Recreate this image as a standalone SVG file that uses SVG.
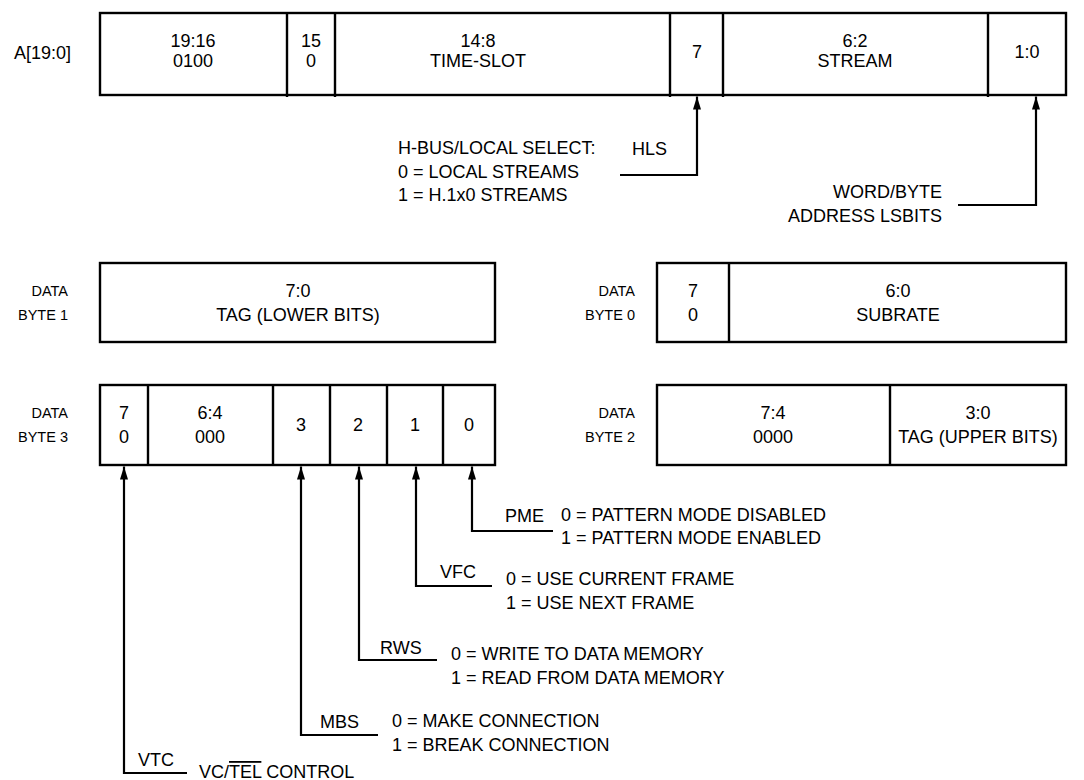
<svg xmlns="http://www.w3.org/2000/svg" width="1084" height="780" viewBox="0 0 1084 780">
<style>
text{font-family:"Liberation Sans",Arial,sans-serif;font-size:18px;fill:#000}
.l{font-size:14.5px}
.c{text-anchor:middle}
.r{text-anchor:end}
.b{fill:#fff;stroke:#000;stroke-width:2.4}
.d{stroke:#000;stroke-width:2.4}
.w{fill:none;stroke:#000;stroke-width:2.2}
</style>
<defs>
<marker id="ah" markerWidth="13" markerHeight="8" refX="13" refY="4" orient="auto" markerUnits="userSpaceOnUse" viewBox="0 0 13 8">
<path d="M0 0 L13 4 L0 8 Z" fill="#000"/>
</marker>
</defs>
<rect width="1084" height="780" fill="#fff"/>

<g id="addr">
<text x="71" y="59" class="r">A[19:0]</text>
<rect class="b" x="100" y="13" width="966" height="82"/>
<line class="d" x1="287" y1="13" x2="287" y2="97"/>
<line class="d" x1="335" y1="13" x2="335" y2="97"/>
<line class="d" x1="670" y1="13" x2="670" y2="97"/>
<line class="d" x1="723" y1="13" x2="723" y2="97"/>
<line class="d" x1="988" y1="13" x2="988" y2="97"/>
<text x="193" y="47" class="c">19:16</text><text x="193" y="67" class="c">0100</text>
<text x="311" y="47" class="c">15</text><text x="311" y="67" class="c">0</text>
<text x="478" y="47" class="c">14:8</text><text x="478" y="67" class="c">TIME-SLOT</text>
<text x="697" y="58" class="c">7</text>
<text x="855" y="47" class="c">6:2</text><text x="855" y="67" class="c">STREAM</text>
<text x="1027" y="58" class="c">1:0</text>
</g>

<g id="byte1">
<text x="68" y="296" class="r l">DATA</text><text x="68" y="320" class="r l">BYTE 1</text>
<rect class="b" x="100" y="263" width="395" height="79"/>
<text x="298" y="297" class="c">7:0</text><text x="298" y="321" class="c">TAG (LOWER BITS)</text>
</g>

<g id="byte0">
<text x="635" y="296" class="r l">DATA</text><text x="635" y="320" class="r l">BYTE 0</text>
<rect class="b" x="657" y="263" width="409" height="79"/>
<line class="d" x1="729" y1="263" x2="729" y2="342"/>
<text x="693" y="297" class="c">7</text><text x="693" y="321" class="c">0</text>
<text x="898" y="297" class="c">6:0</text><text x="898" y="321" class="c">SUBRATE</text>
</g>

<g id="byte3">
<text x="68" y="418" class="r l">DATA</text><text x="68" y="442" class="r l">BYTE 3</text>
<rect class="b" x="100" y="385" width="395" height="80"/>
<line class="d" x1="148" y1="385" x2="148" y2="465"/>
<line class="d" x1="273" y1="385" x2="273" y2="465"/>
<line class="d" x1="330" y1="385" x2="330" y2="465"/>
<line class="d" x1="387" y1="385" x2="387" y2="465"/>
<line class="d" x1="443" y1="385" x2="443" y2="465"/>
<text x="124" y="419" class="c">7</text><text x="124" y="443" class="c">0</text>
<text x="210" y="419" class="c">6:4</text><text x="210" y="443" class="c">000</text>
<text x="301" y="431" class="c">3</text>
<text x="358" y="431" class="c">2</text>
<text x="415" y="431" class="c">1</text>
<text x="469" y="431" class="c">0</text>
</g>

<g id="byte2">
<text x="635" y="418" class="r l">DATA</text><text x="635" y="442" class="r l">BYTE 2</text>
<rect class="b" x="657" y="385" width="409" height="80"/>
<line class="d" x1="890" y1="385" x2="890" y2="465"/>
<text x="773" y="419" class="c">7:4</text><text x="773" y="443" class="c">0000</text>
<text x="978" y="419" class="c">3:0</text><text x="978" y="443" class="c">TAG (UPPER BITS)</text>
</g>

<g id="connectors">
<polyline class="w" points="620,175 697,175 697,96.5" marker-end="url(#ah)"/>
<polyline class="w" points="958,205 1036,205 1036,96.5" marker-end="url(#ah)"/>
<polyline class="w" points="553,531 472,531 472,466.5" marker-end="url(#ah)"/>
<polyline class="w" points="492,586 416,586 416,466.5" marker-end="url(#ah)"/>
<polyline class="w" points="437,660 359,660 359,466.5" marker-end="url(#ah)"/>
<polyline class="w" points="378,735 301,735 301,466.5" marker-end="url(#ah)"/>
<polyline class="w" points="187,773 124,773 124,466.5" marker-end="url(#ah)"/>
</g>

<g id="hls">
<text x="398" y="154">H-BUS/LOCAL SELECT:</text>
<text x="398" y="178">0 = LOCAL STREAMS</text>
<text x="398" y="201">1 = H.1x0 STREAMS</text>
<text x="632" y="155">HLS</text>
</g>

<g id="wordbyte">
<text x="942" y="198" class="r">WORD/BYTE</text>
<text x="942" y="222" class="r">ADDRESS LSBITS</text>
</g>

<g id="pme">
<text x="505" y="522">PME</text>
<text x="561" y="521">0 = PATTERN MODE DISABLED</text>
<text x="561" y="544">1 = PATTERN MODE ENABLED</text>
</g>
<g id="vfc">
<text x="440" y="578">VFC</text>
<text x="506" y="585">0 = USE CURRENT FRAME</text>
<text x="506" y="609">1 = USE NEXT FRAME</text>
</g>
<g id="rws">
<text x="380" y="654">RWS</text>
<text x="451" y="660">0 = WRITE TO DATA MEMORY</text>
<text x="451" y="684">1 = READ FROM DATA MEMORY</text>
</g>
<g id="mbs">
<text x="320" y="728">MBS</text>
<text x="392" y="727">0 = MAKE CONNECTION</text>
<text x="392" y="751">1 = BREAK CONNECTION</text>
</g>
<g id="vtc">
<text x="138" y="766">VTC</text>
<text x="199" y="778">VC/<tspan text-decoration="overline">TEL</tspan> CONTROL</text>
</g>
</svg>
